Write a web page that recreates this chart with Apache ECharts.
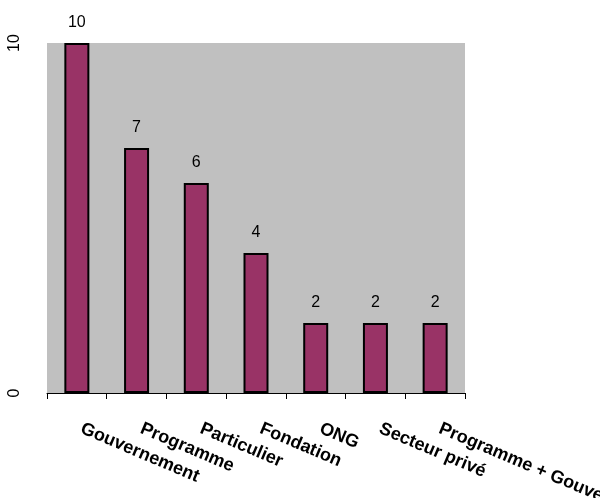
<!DOCTYPE html>
<html>
<head>
  <meta charset="utf-8">
  <title>Sources de financement</title>
  <style type="text/css">
    html, body { margin: 0; padding: 0; background: #fff; }
    #main { width: 600px; height: 498px; }
  </style>
</head>
<body>
<div id="main"></div>
<script type="text/javascript" src="https://cdn.jsdelivr.net/npm/echarts@6/dist/echarts.min.js"></script>
<script type="text/javascript">
  var categories = ['Gouvernement', 'Programme', 'Particulier', 'Fondation', 'ONG', 'Secteur privé', 'Programme + Gouvernement'];
  var values = [10, 7, 6, 4, 2, 2, 2];
  var yTicks = [0, 10];

  var myChart = echarts.init(document.getElementById('main'));

  var option = {
    backgroundColor: '#fff',
    animation: false,
    textStyle: { fontFamily: 'Liberation Sans, Arial, sans-serif' },
    grid: {
      left: 47,
      right: 135,
      top: 43,
      bottom: 105,
      outerBoundsMode: 'none',
      containLabel: false,
      show: true,
      backgroundColor: '#c0c0c0',
      borderWidth: 0
    },
    xAxis: {
      type: 'category',
      data: categories,
      axisLine: { show: true, lineStyle: { color: '#000', width: 1 } },
      axisTick: { show: true, interval: 0, length: 6, lineStyle: { color: '#000' } },
      axisLabel: {
        interval: 0,
        hideOverlap: false,
        rotate: -23,
        margin: 33,
        padding: [0, 0, 0, 5],
        color: '#000',
        fontWeight: 'bold',
        fontSize: 18
      }
    },
    yAxis: {
      type: 'value',
      min: yTicks[0],
      max: yTicks[1],
      interval: 10,
      axisLine: { show: false },
      axisTick: { show: false },
      splitLine: { show: false },
      axisLabel: {
        rotate: 90,
        margin: 24,
        color: '#000',
        fontSize: 16
      }
    },
    series: [{
      type: 'bar',
      data: values,
      barWidth: 25,
      itemStyle: {
        color: '#993366',
        borderColor: '#000',
        borderWidth: 2
      },
      label: {
        show: true,
        position: 'top',
        distance: 12,
        color: '#000',
        fontSize: 16
      }
    }]
  };

  myChart.setOption(option);
</script>
</body>
</html>
